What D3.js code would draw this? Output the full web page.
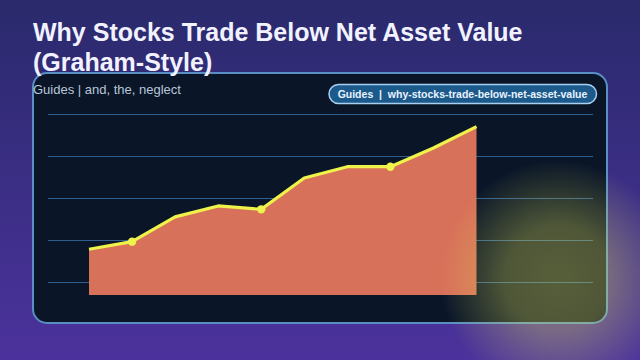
<!DOCTYPE html>
<html><head><meta charset="utf-8">
<script src="https://cdn.jsdelivr.net/npm/d3@7"></script>
<style>html,body{margin:0;padding:0;background:#2a2a6c;}svg{display:block;}</style>
</head><body>
<script>
// Data
const categories = ["P1","P2","P3","P4","P5","P6","P7","P8","P9","P10"];
const values = [35.6, 39.2, 51.0, 56.2, 54.6, 69.5, 74.9, 74.9, 83.8, 94.0];
const markedIdx = [1, 4, 7];
const yTicks = [20, 40, 60, 80, 100];
const title1 = "Why Stocks Trade Below Net Asset Value";
const title2 = "(Graham-Style)";
const subtitle = "Guides | and, the, neglect";
const badge = "Guides  |  why-stocks-trade-below-net-asset-value";

const W = 640, H = 360;
const svg = d3.select("body").append("svg").attr("width", W).attr("height", H);
const defs = svg.append("defs");

const bg = defs.append("linearGradient").attr("id","bg").attr("x1",0).attr("y1",0).attr("x2",0).attr("y2",1);
bg.append("stop").attr("offset","0%").attr("stop-color","#2a2a6c");
bg.append("stop").attr("offset","100%").attr("stop-color","#4b329c");

const glow = defs.append("radialGradient").attr("id","glow");
glow.append("stop").attr("offset","0%").attr("stop-color","rgb(230,230,90)").attr("stop-opacity",0.35);
glow.append("stop").attr("offset","45%").attr("stop-color","rgb(230,230,90)").attr("stop-opacity",0.31);
glow.append("stop").attr("offset","100%").attr("stop-color","rgb(230,230,90)").attr("stop-opacity",0);

svg.append("rect").attr("width",W).attr("height",H).attr("fill","url(#bg)");

// Panel
svg.append("rect").attr("x",33).attr("y",73).attr("width",574).attr("height",250)
  .attr("rx",14).attr("fill","#0a1628").attr("stroke","#5a8fc6").attr("stroke-width",2);

// Scales
const x = d3.scaleLinear().domain([0, categories.length-1]).range([89, 476.5]);
const y = d3.scaleLinear().domain([13.8, 100]).range([295, 114]);

// Gridlines
svg.append("g").selectAll("line").data(yTicks).join("line")
  .attr("x1",48).attr("x2",593)
  .attr("y1",d=>Math.round(y(d))+0.5).attr("y2",d=>Math.round(y(d))+0.5)
  .attr("stroke","#2f5f8e").attr("stroke-width",1);

// Area
const area = d3.area().x((d,i)=>x(i)).y0(y(13.8)).y1(d=>y(d));
svg.append("path").datum(values).attr("d",area).attr("fill","#d77159");

const line = d3.line().x((d,i)=>x(i)).y(d=>y(d));
svg.append("path").datum(values).attr("d",line).attr("fill","none")
  .attr("stroke","#eef24a").attr("stroke-width",3.2).attr("stroke-linejoin","round");

svg.append("g").selectAll("circle").data(markedIdx).join("circle")
  .attr("cx",i=>x(i)).attr("cy",i=>y(values[i])).attr("r",4.2).attr("fill","#eef24a");

// Subtitle
svg.append("text").attr("x",33).attr("y",94).text(subtitle)
  .attr("font-family","Liberation Sans, Arial, sans-serif").attr("font-size",13).attr("fill","#b8c6da");

// Badge
svg.append("rect").attr("x",329).attr("y",84.5).attr("width",267.5).attr("height",19).attr("rx",9.5)
  .attr("fill","#1b5a8b").attr("stroke","#a9d0f0").attr("stroke-width",1.5);
svg.append("text").attr("x",462.5).attr("y",97.8).attr("text-anchor","middle").text(badge)
  .attr("font-family","Liberation Sans, Arial, sans-serif").attr("font-weight","bold")
  .attr("font-size",10.5).attr("fill","#eaf2ff").style("white-space","pre").attr("xml:space","preserve");

// Title
const tt = svg.append("g").attr("font-family","Liberation Sans, Arial, sans-serif")
  .attr("font-weight","bold").attr("font-size",25).attr("fill","#f2f2ff");
tt.append("text").attr("x",33).attr("y",40.5).text(title1);
tt.append("text").attr("x",33).attr("y",70.5).text(title2);

// Glow overlay
svg.append("circle").attr("cx",558).attr("cy",278).attr("r",118).attr("fill","url(#glow)");
</script>
</body></html>
